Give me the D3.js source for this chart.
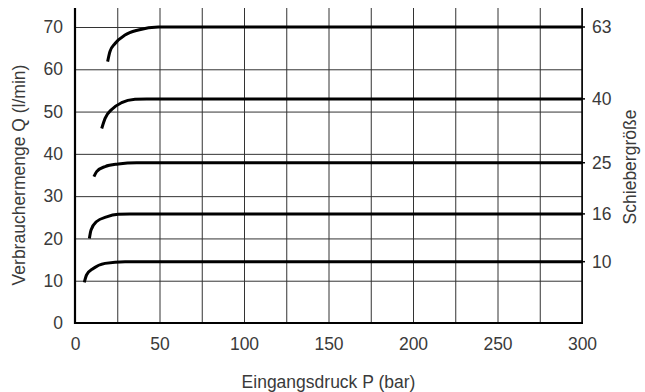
<!DOCTYPE html>
<html>
<head>
<meta charset="utf-8">
<script src="https://cdn.jsdelivr.net/npm/d3@7"></script>
<style>
  body { margin: 0; background: #fff; }
  text { font-family: "Liberation Sans", Helvetica, Arial, sans-serif; fill: #3a3a3a; }
</style>
</head>
<body>
<svg id="chart" width="645" height="392"></svg>
<script>
// Schiebergrößen und ihre Kurven (P in bar, Q in l/min)
const sizes = ["10", "16", "25", "40", "63"];
const pressure = [
  [5.5, 6.9, 10.8, 17.8, 29.6, 300],
  [8.5, 9.5, 12.8, 18.7, 25.6, 32.5, 300],
  [11.2, 12.8, 17.8, 25.6, 36.5, 300],
  [15.8, 17.8, 21.7, 27.6, 35.5, 42.4, 300],
  [19.3, 20.7, 23.7, 29.6, 37.5, 49.3, 300]
];
const flow = [
  [9.6, 11.4, 12.9, 14.1, 14.5, 14.5],
  [20.0, 22.0, 24.0, 25.1, 25.7, 25.8, 25.8],
  [34.6, 35.8, 37.0, 37.6, 37.9, 37.9],
  [46.0, 48.4, 50.5, 52.1, 52.9, 53.0, 53.0],
  [61.8, 64.2, 66.1, 68.1, 69.3, 70.0, 70.0]
];
const xTicks = d3.range(0, 301, 25);
const yTicks = d3.range(0, 71, 10);

const mLeft = 75, mRight = 582, mTop = 8, mBottom = 323;
const fs = "17.5px";

const svg = d3.select("#chart");

const x = d3.scaleLinear().domain([0, 300]).range([mLeft, mRight]);
const y = d3.scaleLinear().domain([0, 70]).range([mBottom, 27]);

// gitter + beschriftung
const gx = svg.append("g")
  .attr("transform", `translate(0,${mBottom})`)
  .call(d3.axisBottom(x)
    .tickValues(xTicks)
    .tickSize(-(mBottom - mTop))
    .tickPadding(15)
    .tickFormat(d => d % 50 === 0 ? d : ""));

const gy = svg.append("g")
  .attr("transform", `translate(${mLeft},0)`)
  .call(d3.axisLeft(y)
    .tickValues(yTicks)
    .tickSize(-(mRight - mLeft))
    .tickPadding(12));

[gx, gy].forEach(g => {
  g.select(".domain").remove();
  g.selectAll(".tick line").attr("stroke", "#333").attr("stroke-width", 1);
  g.selectAll(".tick text").style("font-size", fs).attr("fill", "#3a3a3a");
});

// achsen
svg.append("line").attr("x1", mLeft).attr("x2", mLeft).attr("y1", mTop).attr("y2", mBottom + 1)
  .attr("stroke", "#000").attr("stroke-width", 2.2);
svg.append("line").attr("x1", mLeft - 1).attr("x2", mRight + 1).attr("y1", mBottom).attr("y2", mBottom)
  .attr("stroke", "#000").attr("stroke-width", 2.2);
svg.append("line").attr("x1", mRight).attr("x2", mRight).attr("y1", mTop).attr("y2", mBottom + 1)
  .attr("stroke", "#000").attr("stroke-width", 1.5);

// kurven
const line = d3.line()
  .x(d => x(d[0]))
  .y(d => y(d[1]))
  .curve(d3.curveMonotoneX);

sizes.forEach((s, i) => {
  const pts = pressure[i].map((p, j) => [p, flow[i][j]]);
  const yEnd = y(flow[i][flow[i].length - 1]);
  svg.append("path")
    .attr("d", line(pts))
    .attr("fill", "none")
    .attr("stroke", "#000")
    .attr("stroke-width", 3);
  // kleiner strich rechts
  svg.append("line")
    .attr("x1", mRight).attr("x2", mRight + 3)
    .attr("y1", yEnd).attr("y2", yEnd)
    .attr("stroke", "#000").attr("stroke-width", 1.5);
  svg.append("text")
    .attr("x", mRight + 10)
    .attr("y", yEnd)
    .attr("dy", "0.35em")
    .style("font-size", fs)
    .text(s);
});

// titel
svg.append("text")
  .attr("x", (mLeft + mRight) / 2)
  .attr("y", 388)
  .attr("text-anchor", "middle")
  .style("font-size", fs)
  .text("Eingangsdruck P (bar)");

svg.append("text")
  .attr("transform", "translate(25,175) rotate(-90)")
  .attr("text-anchor", "middle")
  .style("font-size", fs)
  .text("Verbrauchermenge Q (l/min)");

svg.append("text")
  .attr("transform", "translate(636,167) rotate(-90)")
  .attr("text-anchor", "middle")
  .style("font-size", fs)
  .text("Schiebergröße");
</script>
</body>
</html>
